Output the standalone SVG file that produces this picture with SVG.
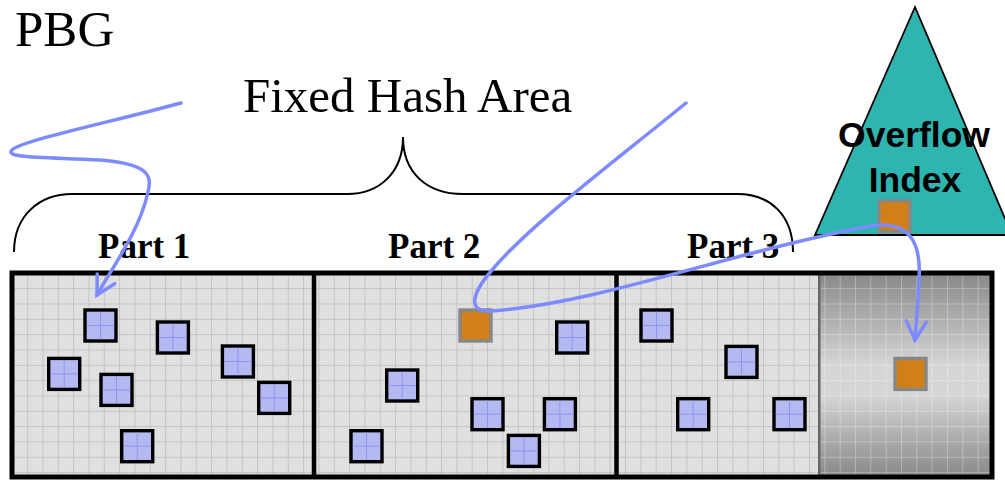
<svg xmlns="http://www.w3.org/2000/svg" xmlns:xlink="http://www.w3.org/1999/xlink" width="1005" height="483" viewBox="0 0 1005 483">
<style>
.serif{font-family:"Liberation Serif","Times New Roman",serif;fill:#000}
.part{font-family:"Liberation Serif","Times New Roman",serif;font-weight:bold;font-size:35px;fill:#000}
.sans{font-family:"Liberation Sans",Arial,sans-serif;font-weight:bold;font-size:35.5px;fill:#000;text-anchor:middle}
.conn{fill:none;stroke:#7d8bff;stroke-width:3.5;stroke-linecap:round}
.orange{fill:#d08016;stroke:#878787;stroke-width:3.4}
</style>
<defs>
<pattern id="grid" x="11.83" y="272.83" width="15.33" height="15.33" patternUnits="userSpaceOnUse">
<path d="M0.5 0V15.33M0 0.5H15.33" stroke="#c3c3c3" stroke-width="1" fill="none"/>
</pattern>
<pattern id="gridw" x="11.83" y="272.83" width="15.33" height="15.33" patternUnits="userSpaceOnUse">
<path d="M0.5 0V15.33M0 0.5H15.33" stroke="#ffffff" stroke-opacity="0.3" stroke-width="1" fill="none"/>
</pattern>
<linearGradient id="shade" x1="0" y1="273" x2="0" y2="477" gradientUnits="userSpaceOnUse">
<stop offset="0" stop-color="#888888"/>
<stop offset="0.45" stop-color="#d5d5d5"/>
<stop offset="0.6" stop-color="#d5d5d5"/>
<stop offset="1" stop-color="#888888"/>
</linearGradient>
<g id="bluebox">
<rect x="1.7" y="1.7" width="31" height="31" fill="#b5b9f2" stroke="#000" stroke-width="3.4"/>
<path d="M17.2 3.4V31M3.4 17.2H31" stroke="#8d95ee" stroke-width="1" fill="none"/>
</g>
<marker id="chev" markerUnits="userSpaceOnUse" orient="auto" refX="0" refY="0" markerWidth="40" markerHeight="40" overflow="visible">
<path d="M-18.5,-10 L0,0 L-18.5,10" fill="none" stroke="#7d8bff" stroke-width="3.5" stroke-linecap="round"/>
</marker>
</defs>

<g id="title"><text class="serif" x="15" y="45.5" font-size="51">PBG</text></g>

<g id="fixed-hash-area">
<text class="serif" x="243" y="112" font-size="49">Fixed Hash Area</text>
<path d="M14,252 C14,215 40,194 72,194 L347,194 C380,194 403,172 403,137 C403,172 426,194 463,194 L737,194 C770,194 793,215 793,252" fill="none" stroke="#000" stroke-width="2"/>
</g>

<g id="overflow-index">
<polygon points="915,7 815,235 1012,235" fill="#2fb5b0" stroke="#000" stroke-width="1.8"/>
<text class="sans" x="914" y="147">Overflow</text>
<text class="sans" x="915" y="192">Index</text>
<rect class="orange" x="879" y="200.7" width="31" height="31"/>
</g>

<g id="pbg-table">
<rect x="12" y="273" width="806" height="204" fill="#e0e0e0"/>
<rect x="12" y="273" width="806" height="204" fill="url(#grid)"/>
<rect x="818" y="273" width="173" height="204" fill="url(#shade)"/>
<rect x="818" y="273" width="173" height="204" fill="url(#gridw)"/>
<rect x="818" y="273" width="2.5" height="204" fill="#666"/>
<rect x="12" y="273" width="980" height="204" fill="none" stroke="#000" stroke-width="5"/>
<path d="M314,273V477M616.5,273V477" stroke="#000" stroke-width="4.5"/>
</g>

<g id="part-labels">
<text class="part" x="98" y="258">Part 1</text>
<text class="part" x="388" y="258">Part 2</text>
<text class="part" x="687" y="258">Part 3</text>
</g>

<g id="part1-entries">
<use xlink:href="#bluebox" x="83.3" y="308.3"/>
<use xlink:href="#bluebox" x="155.7" y="320.3"/>
<use xlink:href="#bluebox" x="47" y="356.7"/>
<use xlink:href="#bluebox" x="99.3" y="372.7"/>
<use xlink:href="#bluebox" x="220.7" y="344.3"/>
<use xlink:href="#bluebox" x="257" y="380.7"/>
<use xlink:href="#bluebox" x="120" y="429"/>
</g>
<g id="part2-entries">
<use xlink:href="#bluebox" x="385" y="368.3"/>
<use xlink:href="#bluebox" x="349.3" y="429"/>
<use xlink:href="#bluebox" x="555" y="320.3"/>
<use xlink:href="#bluebox" x="470.3" y="397"/>
<use xlink:href="#bluebox" x="542.7" y="397"/>
<use xlink:href="#bluebox" x="506.7" y="433.7"/>
<rect class="orange" x="460" y="310" width="31" height="31"/>
</g>
<g id="part3-entries">
<use xlink:href="#bluebox" x="639.3" y="308.3"/>
<use xlink:href="#bluebox" x="724.3" y="344.7"/>
<use xlink:href="#bluebox" x="676" y="397"/>
<use xlink:href="#bluebox" x="772.3" y="397"/>
</g>
<g id="overflow-entries">
<rect class="orange" x="895" y="358.4" width="31" height="31"/>
</g>

<g id="connectors">
<path class="conn" marker-end="url(#chev)" d="M181,103 C120,120 22,140 12,150 C4,158 40,157 100,160 C150,164 152,176 148,192 C140,230 112,268 97,295"/>
<path class="conn" marker-end="url(#chev)" d="M686,103 C610,165 530,225 492,270 C468,298 470,313 492,311 C600,303 720,255 870,226 C915,219 921,250 919,280 C918,305 916,325 915,340"/>
</g>
</svg>
